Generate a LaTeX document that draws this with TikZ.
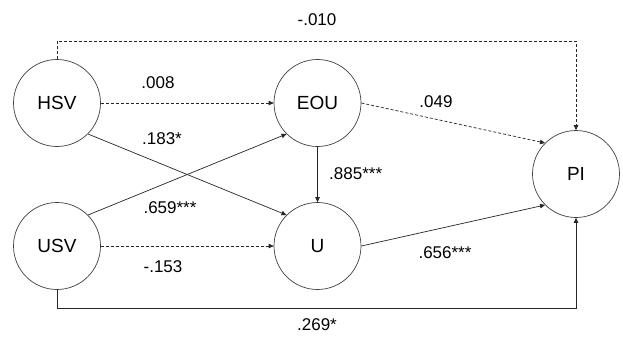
\documentclass[tikz,border=0pt]{standalone}
\usepackage{fontspec}
\setmainfont{Liberation Sans}
\usetikzlibrary{arrows.meta}
\begin{document}
\begin{tikzpicture}[x=1pt,y=-1pt,
  construct/.style={circle,draw=black!75,line width=0.7pt,minimum size=87pt,inner sep=0pt,font=\fontsize{19}{22}\selectfont,fill=white},
  path/.style={draw=black!85,line width=0.7pt,-{Triangle[length=5pt,width=4.5pt]}},
  weak/.style={path,dash pattern=on 3pt off 2pt},
  coef/.style={font=\fontsize{17}{20}\selectfont,inner sep=0pt}]
\useasboundingbox (0,0) rectangle (623,338);
\fill[white] (0,0) rectangle (623,338);

% latent constructs
\node[construct] (hsv) at (57,103) {HSV};
\node[construct] (usv) at (57,246) {USV};
\node[construct] (eou) at (317.5,103) {EOU};
\node[construct] (u)   at (317.5,246) {U};
\node[construct] (pi)  at (576,174) {PI};

% corner points of the routed paths
\coordinate (topl) at (57,41);
\coordinate (topr) at (576,41);
\coordinate (botl) at (57,308);
\coordinate (botr) at (576,308);

% structural paths
\draw[weak] (hsv.north) -- (topl) -- (topr) -- (pi.north);
\draw[weak] (hsv.east) -- (eou.west);
\draw[path] (hsv.south east) -- (u.north west);
\draw[path] (usv.north east) -- (eou.south west);
\draw[weak] (usv.east) -- (u.west);
\draw[path] (usv.south) -- (botl) -- (botr) -- (pi.south);
\draw[path] (eou.south) -- (u.north);
\draw[weak] (eou.east) -- (pi.north west);
\draw[path] (u.east) -- (pi.south west);

% path coefficients
\node[coef] (c1) at (317,20) {-.010};
\node[coef] (c2) at (158,83) {.008};
\node[coef] (c3) at (162,139) {.183*};
\node[coef] (c4) at (436,102) {.049};
\node[coef,anchor=west] (c5) at (329,174) {.885***};
\node[coef] (c6) at (170,208) {.659***};
\node[coef] (c7) at (163,267) {-.153};
\node[coef] (c8) at (445,253) {.656***};
\node[coef] (c9) at (317,325) {.269*};
\end{tikzpicture}
\end{document}
